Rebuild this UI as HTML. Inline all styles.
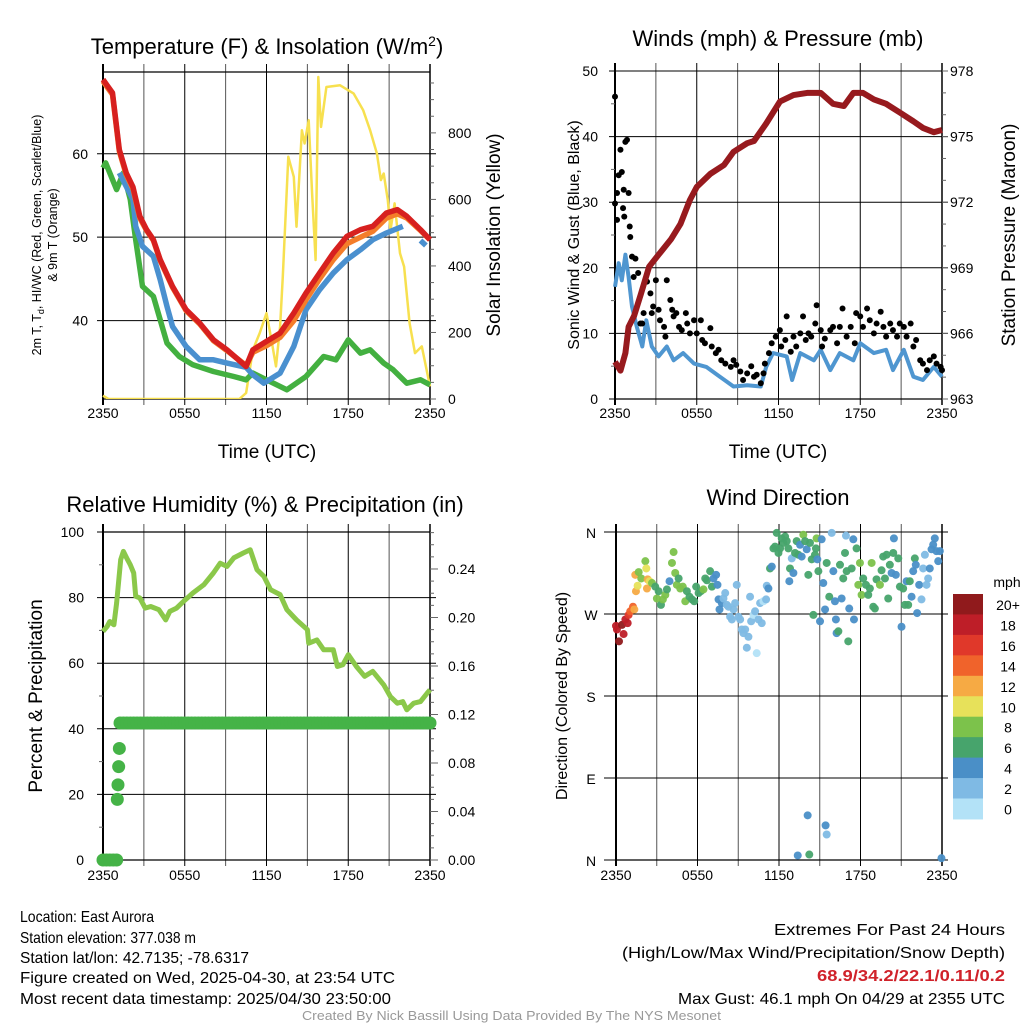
<!DOCTYPE html>
<html><head><meta charset="utf-8"><style>
html,body{margin:0;padding:0;background:#fff;}
svg{display:block;font-family:"Liberation Sans",sans-serif;}
</style></head><body>
<svg id="fig" width="1024" height="1024" viewBox="0 0 1024 1024" xmlns="http://www.w3.org/2000/svg">
<rect width="1024" height="1024" fill="#fff"/>
<g id="layer"></g>
<g font-size="16" fill="#000">
<text x="20" y="922" textLength="134" lengthAdjust="spacingAndGlyphs">Location: East Aurora</text>
<text x="20" y="943" textLength="176" lengthAdjust="spacingAndGlyphs">Station elevation: 377.038 m</text>
<text x="20" y="963" textLength="229" lengthAdjust="spacingAndGlyphs">Station lat/lon: 42.7135; -78.6317</text>
<text x="20" y="983" textLength="375" lengthAdjust="spacingAndGlyphs">Figure created on Wed, 2025-04-30, at 23:54 UTC</text>
<text x="20" y="1004" textLength="371" lengthAdjust="spacingAndGlyphs">Most recent data timestamp: 2025/04/30 23:50:00</text>
<text x="774" y="935" textLength="231" lengthAdjust="spacingAndGlyphs">Extremes For Past 24 Hours</text>
<text x="622" y="958" textLength="383" lengthAdjust="spacingAndGlyphs">(High/Low/Max Wind/Precipitation/Snow Depth)</text>
<text x="817" y="981" textLength="188" lengthAdjust="spacingAndGlyphs" fill="#d0222a" font-weight="bold">68.9/34.2/22.1/0.11/0.2</text>
<text x="678" y="1004" textLength="327" lengthAdjust="spacingAndGlyphs">Max Gust: 46.1 mph On 04/29 at 2355 UTC</text>
<text x="302" y="1020" font-size="13" fill="#999" textLength="419" lengthAdjust="spacingAndGlyphs">Created By Nick Bassill Using Data Provided By The NYS Mesonet</text>
</g>
</svg>
<script>
// ---------- DATA ----------
const tickLabels = ["2350","0550","1150","1750","2350"];
// Temperature panel (hours since 2350 UTC)
const tempHours = [0,0.3,0.7,1.2,1.7,2.2,2.7,3.2,3.7,4.2,5.1,6.1,7.1,8.1,9.1,10.5,11,12,13,14,14.9,15.9,16.9,17.9,18.9,19.8,20.8,21.6,22.3,23.3,24];
const tempRed = [68.9,68.2,67.3,60.5,57.7,56,52.5,50.9,49.7,47.3,44.1,41.3,39.7,37.7,36.5,34.5,36.5,37.5,38.5,40.9,43.3,45.7,48.1,50.1,50.9,51.3,52.9,53.3,52.5,50.9,49.7];
const tempOrange = [68.7,68.0,67.1,60.3,57.5,55.8,52.3,50.8,49.6,47.2,44.0,41.2,39.6,37.6,36.4,34.6,36.2,37.0,38.0,40.0,42.5,45.0,47.3,49.2,50.0,50.7,52.3,52.8,52.3,50.8,49.7];
const blueHours = [1.2,2.2,2.4,2.9,3.7,4.2,4.7,5.1,6.1,7.1,8.1,9.1,10.5,11.0,11.8,13,14,14.9,15.9,16.9,17.9,18.9,19.8,20.8,22];
const tempBlue = [57.7,54.5,51.3,48.9,47.7,44.9,41.7,39.3,36.9,35.3,35.3,34.9,34.4,33.5,32.5,33.7,36.9,41.3,43.7,45.7,47.3,48.5,49.7,50.5,51.3];
const blueTailHours = [23.3,23.5,23.7];
const blueTail = [49.6,49.3,49.0];
const greenHours = [0,0.2,1,1.5,2,2.4,2.9,3.7,4.2,4.7,5.6,6.6,8.1,9.6,10.5,11,12,13.5,14.9,16.2,17.1,18,18.9,19.6,20.6,21.3,22.3,23.3,24];
const tempGreen = [58.3,58.9,55.7,57.7,54.5,49.7,44.1,42.9,40.1,37.3,35.7,34.7,33.9,33.3,32.9,33.7,32.9,31.7,33.3,35.7,35.3,37.7,36.1,36.5,34.9,34.1,32.5,32.9,32.3];
const solarHours = [0,0.4,10,10.5,11,11.5,12,12.4,12.7,13,13.2,13.6,14,14.2,14.6,14.8,15.1,15.35,15.6,15.8,16,16.4,17.4,18.4,19.1,19.6,20.1,20.4,20.6,20.9,21.1,21.4,21.8,22.1,22.5,22.9,23.4,24];
const solarWatts = [10,0,0,18,148,198,258,168,98,218,368,728,668,518,808,768,838,618,418,968,818,938,943,918,868,808,738,658,678,598,508,588,438,398,228,138,158,38];
// Winds panel
const windHours = [0,0.27,0.5,0.76,1.0,1.25,1.6,2.0,2.3,2.7,3.2,3.8,4.3,5.0,5.8,6.7,7.7,8.7,9.7,10.7,11.1,11.6,12.6,13.0,13.6,14.6,15.1,15.8,16.5,17.5,18.0,19.0,19.9,20.4,21.2,21.9,22.6,23.4,24];
const windSpeed = [17.1,20.7,18.1,22,18.6,14.1,11.0,8.0,12.0,8.0,6.5,8.0,5.9,7.0,5.4,4.9,3.4,1.9,2.1,1.9,4.9,7.0,6.5,2.9,7.0,5.9,7.5,4.4,7.0,5.9,8.5,7.0,7.5,4.4,7.5,3.4,2.9,4.9,3.4];
const gustHours = [0,0,0.15,0.15,0.27,0.4,0.5,0.64,0.76,0.88,1.0,0.59,0.68,1.08,1.12,1.25,1.5,1.37,1.7,1.86,2.0,2.1,2.35,2.6,2.7,3.0,2.8,3.2,3.3,3.6,3.8,3.7,4.06,4.2,4.3,4.5,4.7,4.9,5.2,5.3,5.5,5.8,6.0,6.3,6.4,6.6,7.0,7.1,7.4,7.6,7.8,8.1,8.5,8.7,8.9,9.2,9.4,9.7,10.0,10.2,10.4,10.7,10.9,11.0,11.3,11.5,11.8,12.1,12.2,12.5,12.6,12.9,13.1,13.3,13.6,13.8,14.0,14.2,14.4,14.7,14.8,15.1,15.2,15.4,15.8,16.0,16.3,16.5,16.7,17.0,17.3,17.6,17.7,18.0,18.2,18.5,18.7,19.0,19.2,19.5,19.7,19.9,20.2,20.4,20.7,20.9,21.2,21.4,21.7,21.9,22.1,22.4,22.6,22.9,23.1,23.4,23.6,23.9,24];
const gustSpeed = [46.1,29.8,31.4,27.3,34.1,38,34.6,31.9,39.2,39.5,31.4,29.1,27.8,26.3,24.7,21.7,21.4,18.6,19.2,11.5,11.5,13.1,17.9,16.1,13.1,18.1,14.1,13.6,12.0,11.0,18.1,9.5,15.1,13.6,12.6,13.1,11.0,10.5,13.1,11.5,10.0,12.0,10.0,12.0,9.0,8.5,10.8,8.0,7.0,7.5,5.9,5.4,4.9,5.9,5.2,4.2,2.9,3.9,5.0,3.4,3.7,2.4,3.9,5.4,7.0,8.5,9.5,10.5,8.0,9.0,12.6,7.2,9.5,8.0,10.0,12.6,9.0,10.0,9.5,11.5,14.3,10.5,8.0,9.2,10.5,11.0,8.5,11.0,13.8,9.5,11.0,8.5,13.1,12.6,11.0,13.8,12.0,10.0,11.5,13.3,11.0,9.5,11.5,10.5,9.5,11.5,11.0,9.5,11.5,8.0,9.0,5.9,5.4,4.4,5.9,6.5,5.4,4.9,4.4];
const pressHours = [0,0.4,0.76,1.0,1.4,1.9,2.5,3.2,4.1,4.8,5.5,6.0,7.0,8.0,8.7,9.7,10.2,11.1,12.1,13.1,14.1,15.1,16.0,16.8,17.5,18.2,19.0,19.9,20.9,21.9,22.6,23.4,24];
const pressMb = [964.7,964.3,965.1,966.3,966.8,967.8,969.05,969.6,970.3,971.0,972.1,972.7,973.3,973.7,974.3,974.7,974.8,975.6,976.6,976.9,977.0,977.0,976.5,976.4,977.0,977.0,976.7,976.5,976.1,975.7,975.4,975.2,975.3];
// RH / precip panel
const rhHours = [0,0.3,0.5,0.8,1.0,1.3,1.5,1.8,2.0,2.25,2.4,2.7,3.1,3.5,4.1,4.6,4.9,5.4,5.9,6.6,7.4,8.1,8.6,9.1,9.6,10.3,10.8,11.3,11.8,12.3,13,13.5,14.2,15,15.1,15.7,16.2,16.9,17.2,17.6,18,18.6,19.2,19.8,20.6,21.1,21.6,22.0,22.3,22.8,23.3,23.8,24];
const rhPct = [69.7,71.2,72.7,71.7,78.3,91.6,94.1,91.6,90,87.5,80.4,79.9,76.8,77.3,76.3,73.2,75.8,76.8,78.8,81.4,83.9,87.5,90.5,89.5,92.1,93.6,94.6,88.5,86.5,82.4,80.9,76.3,73.2,70.2,66.1,67.1,64.1,64.1,59.0,59.5,62.6,59,56,57.5,53.4,49.8,47.8,48.3,45.8,47.8,48.3,50.9,51.9];
const precipHours = [0,0.25,0.5,0.75,1.0,1.05,1.1,1.15,1.2,1.25,1.5,1.75,2,2.25,2.5,2.75,3,3.25,3.5,3.75,4,4.25,4.5,4.75,5,5.25,5.5,5.75,6,6.25,6.5,6.75,7,7.25,7.5,7.75,8,8.25,8.5,8.75,9,9.25,9.5,9.75,10,10.25,10.5,10.75,11,11.25,11.5,11.75,12,12.25,12.5,12.75,13,13.25,13.5,13.75,14,14.25,14.5,14.75,15,15.25,15.5,15.75,16,16.25,16.5,16.75,17,17.25,17.5,17.75,18,18.25,18.5,18.75,19,19.25,19.5,19.75,20,20.25,20.5,20.75,21,21.25,21.5,21.75,22,22.25,22.5,22.75,23,23.25,23.5,23.75,24];
const precipIn = [0,0,0,0,0,0.05,0.062,0.077,0.092,0.113,0.113,0.113,0.113,0.113,0.113,0.113,0.113,0.113,0.113,0.113,0.113,0.113,0.113,0.113,0.113,0.113,0.113,0.113,0.113,0.113,0.113,0.113,0.113,0.113,0.113,0.113,0.113,0.113,0.113,0.113,0.113,0.113,0.113,0.113,0.113,0.113,0.113,0.113,0.113,0.113,0.113,0.113,0.113,0.113,0.113,0.113,0.113,0.113,0.113,0.113,0.113,0.113,0.113,0.113,0.113,0.113,0.113,0.113,0.113,0.113,0.113,0.113,0.113,0.113,0.113,0.113,0.113,0.113,0.113,0.113,0.113,0.113,0.113,0.113,0.113,0.113,0.113,0.113,0.113,0.113,0.113,0.113,0.113,0.113,0.113,0.113,0.113,0.113,0.113,0.113,0.113];
// Wind direction panel
const dirHours = [0,0.07,0.22,0.44,0.56,0.69,0.86,0.93,1.05,1.25,1.35,1.47,1.59,1.42,1.67,1.86,2.16,2.23,2.33,2.28,2.47,2.65,2.89,3.01,3.14,3.31,3.45,3.63,3.75,3.94,4.12,4.24,4.36,4.48,4.61,4.73,4.92,5.1,5.22,5.41,5.59,5.76,5.9,6.08,6.25,6.44,6.57,6.69,6.93,7.06,7.18,7.37,7.47,7.55,7.62,7.79,7.91,8.04,8.16,8.28,8.4,8.53,8.65,8.77,8.89,9.02,9.14,9.26,9.38,9.51,9.63,9.75,9.87,9.95,10.12,10.24,10.36,10.49,10.61,10.73,10.85,11.05,11.1,11.22,11.34,11.47,11.59,11.71,11.83,11.96,12.08,12.2,12.32,12.45,12.57,12.69,12.76,12.81,12.94,13.06,13.18,13.3,13.43,13.55,13.67,13.79,13.92,14.04,14.16,14.28,14.41,14.53,14.65,14.72,14.77,14.82,14.9,15.02,15.14,15.26,15.39,15.51,15.7,15.88,16.0,16.12,16.19,16.24,16.37,16.49,16.61,16.73,16.86,16.93,16.98,17.1,17.17,17.35,17.47,17.52,17.71,17.84,17.96,18.08,18.2,18.4,18.57,18.69,18.82,18.94,19.06,19.18,19.43,19.55,19.67,19.8,19.92,20.04,20.16,20.29,20.41,20.46,20.6,20.78,20.9,21.02,21.14,21.27,21.39,21.51,21.63,21.76,21.88,22.0,22.07,22.17,22.32,22.49,22.61,22.74,22.86,22.98,23.1,23.23,23.35,23.47,23.59,23.72,23.84,13.38,14.11,14.23,15.43,15.51,23.96];
const dirDeg = [257,253,240,258,248,264,260,269,273,278,275,295,301,313,316,309,328,320,308,298,306,304,300,287,295,280,286,291,297,306,326,338,315,302,309,298,300,284,295,289,286,284,300,293,295,297,309,307,317,300,309,313,302,286,275,282,287,293,280,278,267,264,275,282,302,267,264,253,249,253,233,245,289,262,269,273,227,264,282,260,284,286,301,298,320,322,342,344,359,337,342,353,348,355,350,342,306,320,331,315,337,350,335,346,333,357,350,341,313,348,330,269,335,342,353,330,317,262,352,304,275,326,289,359,317,284,264,249,251,324,287,309,337,356,317,240,276,320,352,264,342,302,326,291,309,302,291,298,326,278,276,308,302,318,333,309,335,287,324,315,337,353,313,331,300,256,298,280,306,280,306,289,317,331,324,271,302,286,320,335,302,309,320,341,346,353,339,328,339,5,49,6,38,28,2];
const dirSpeed = [19,19,21,20,19,19,18,17,15,14,12,13,11,13,9,9,9,11,12,13,11,9,7,8,7,7,8,8,7,5,9,9,8,9,7,8,8,9,7,7,7,7,7,7,7,8,6,6,7,6,5,5,5,4,5,4,3,3,3,3,3,3,3,3,3,3,3,3,3,2,3,3,3,2,1,2,1,3,2,2,1,3,3,4,6,4,7,6,6,6,7,6,6,6,7,6,4,6,3,4,7,7,7,4,4,8,6,4,6,6,6,7,6,7,8,4,6,4,4,4,4,6,6,2,4,4,4,4,6,6,4,6,6,2,6,6,4,6,4,4,6,8,8,8,7,7,6,7,8,6,6,6,8,6,7,6,7,6,7,4,6,4,4,6,7,4,6,6,4,7,7,4,4,6,4,4,4,3,3,3,3,3,4,4,4,4,4,4,4,4,4,6,4,3,4];
const speedBins = ["0","2","4","6","8","10","12","14","16","18","20+"];
const speedColors = ["#b3e2f7","#7fbae4","#4a8fc7","#47a46c","#7cc24b","#e7e15a","#f6aa44","#f0632b","#e0382a","#be1e28","#901a1c"];

// ---------- HELPERS ----------
const NS="http://www.w3.org/2000/svg";
const layer=document.getElementById('layer');
function mk(tag,attrs,parent){const e=document.createElementNS(NS,tag);for(const k in attrs)e.setAttribute(k,attrs[k]);(parent||layer).appendChild(e);return e;}
function txt(s,attrs,parent){const e=mk('text',attrs,parent);e.textContent=s;return e;}
function lin(d0,d1,r0,r1){return v=>r0+(v-d0)/(d1-d0)*(r1-r0);}
function pathFrom(xs,ys,sx,sy){let d='';for(let i=0;i<xs.length;i++){d+=(i?'L':'M')+sx(xs[i]).toFixed(1)+','+sy(ys[i]).toFixed(1);}return d;}

function frame(g,L,R,T,B,opts){
  const sx=lin(0,24,L,R);
  for(let h=3;h<24;h+=3){const gl=mk('line',{x1:sx(h),x2:sx(h),y1:T-(opts.topTicks?8:0),y2:B+6,stroke:(h%6===0?'#000':'#555'),'stroke-width':1},g);
    }
  [0,24].forEach(h=>{mk('line',{x1:sx(h),x2:sx(h),y1:T-(opts.topTicks?8:0),y2:B+6,stroke:'#000','stroke-width':h===0?2:1.5},g);});
  if(opts.topBorder) mk('line',{x1:L,x2:R,y1:T,y2:T,stroke:'#000','stroke-width':1.2},g);
  mk('line',{x1:L,x2:R,y1:B,y2:B,stroke:'#000','stroke-width':1.2},g);
  for(let i=0;i<tickLabels.length;i++){const t=txt(tickLabels[i],{x:sx(i*6),y:B+(opts.lblOff||22),'font-size':14,'text-anchor':'middle'},g);
    }
  return sx;
}
function hgrid(g,L,R,ys,leftTick){ys.forEach(y=>{mk('line',{x1:L-leftTick,x2:R+6,y1:y,y2:y,stroke:'#000','stroke-width':1},g);});}

// ---------- PANEL 1: Temperature ----------
(function(){
  const g=mk('g',{});
  const L=103,R=430,T=72,B=399;
  const sy=lin(30.6,69.8,B,T), sw=lin(0,983,B,T);
  const sx=frame(g,L,R,T,B,{topTicks:true,topBorder:true,lblOff:19});
  hgrid(g,L,R,[40,50,60].map(sy),6);
  [40,50,60].forEach(v=>{const t=txt(String(v),{x:88,y:sy(v)+5,'font-size':14,'text-anchor':'end'},g);});
  for(let w=0;w<=950;w+=50){mk('line',{x1:R,x2:R+(w%200===0?6:4),y1:sw(w),y2:sw(w),stroke:'#666','stroke-width':1},g);}
  [0,200,400,600,800].forEach(v=>{const t=txt(String(v),{x:448,y:sw(v)+5,'font-size':14},g);});
  const cp=mk('clipPath',{id:'c1'},g);mk('rect',{x:L-3,y:T,width:R-L+6,height:B-T},cp);
  const pg=mk('g',{'clip-path':'url(#c1)'},g);
  let p;
  p=mk('path',{d:pathFrom(solarHours,solarWatts,sx,sw),fill:'none',stroke:'#f7e04f','stroke-width':2.5,'stroke-linejoin':'round'},pg);
  p=mk('path',{d:pathFrom(greenHours,tempGreen,sx,sy),fill:'none',stroke:'#43b040','stroke-width':5.5,'stroke-linejoin':'round'},pg);
  p=mk('path',{d:pathFrom(blueHours,tempBlue,sx,sy),fill:'none',stroke:'#4a90cf','stroke-width':5.5,'stroke-linejoin':'round'},pg);
  p=mk('path',{d:pathFrom(blueTailHours,blueTail,sx,sy),fill:'none',stroke:'#4a90cf','stroke-width':5.5},pg);
  p=mk('path',{d:pathFrom(tempHours,tempOrange,sx,sy),fill:'none',stroke:'#f47d2a','stroke-width':5.5,'stroke-linejoin':'round'},pg);
  p=mk('path',{d:pathFrom(tempHours,tempRed,sx,sy),fill:'none',stroke:'#d7201f','stroke-width':5.5,'stroke-linejoin':'round'},pg);
  let t=txt('',{x:267,y:54,'font-size':22,'text-anchor':'middle'},g);
  t.innerHTML='Temperature (F) &amp; Insolation (W/m<tspan dy="-8" font-size="14">2</tspan><tspan dy="8">)</tspan>';
  t=txt('',{transform:'translate(41,235) rotate(-90)','font-size':12.5,'text-anchor':'middle'},g);
  t.innerHTML='2m T, T<tspan dy="3" font-size="9">d</tspan><tspan dy="-3">, HI/WC (Red, Green, Scarlet/Blue)</tspan>';
  t=txt('& 9m T (Orange)',{transform:'translate(57,235) rotate(-90)','font-size':12.5,'text-anchor':'middle'},g);
  t=txt('Solar Insolation (Yellow)',{transform:'translate(500,235) rotate(-90)','font-size':19,'text-anchor':'middle'},g);
  t=txt('Time (UTC)',{x:267,y:458,'font-size':19,'text-anchor':'middle'},g);
})();

// ---------- PANEL 2: Winds ----------
(function(){
  const g=mk('g',{});
  const L=615,R=942,T=71,B=399;
  const sy=lin(0,50,B,T), sp=lin(963,978,B,T);
  const sx=frame(g,L,R,T,B,{topTicks:true,topBorder:false,lblOff:19});
  hgrid(g,L,R,[0,10,20,30,40,50].map(sy),6);
  [0,10,20,30,40,50].forEach(v=>{const t=txt(String(v),{x:598,y:sy(v)+5,'font-size':14,'text-anchor':'end'},g);});
  for(let v=5;v<50;v+=10){mk('line',{x1:L-4,x2:L,y1:sy(v),y2:sy(v),stroke:'#666'},g);}
  for(let m=963;m<=978;m+=1){mk('line',{x1:R,x2:R+(m%3===0?6:4),y1:sp(m),y2:sp(m),stroke:'#666'},g);}
  [963,966,969,972,975,978].forEach(v=>{const t=txt(String(v),{x:950,y:sp(v)+5,'font-size':14},g);});
  let p=mk('path',{d:pathFrom(windHours,windSpeed,sx,sy),fill:'none',stroke:'#4f96d0','stroke-width':4,'stroke-linejoin':'round'},g);
  for(let i=0;i<gustHours.length;i++){const c=mk('circle',{cx:sx(gustHours[i]),cy:sy(gustSpeed[i]),r:3,fill:'#000'},g);
    }
  p=mk('path',{d:pathFrom(pressHours,pressMb,sx,sp),fill:'none',stroke:'#971a1e','stroke-width':6,'stroke-linejoin':'round'},g);
  let t=txt('Winds (mph) & Pressure (mb)',{x:778,y:46,'font-size':22,'text-anchor':'middle'},g);
  t=txt('Sonic Wind & Gust (Blue, Black)',{transform:'translate(579,235) rotate(-90)','font-size':16,'text-anchor':'middle'},g);
  t=txt('Station Pressure (Maroon)',{transform:'translate(1015,235) rotate(-90)','font-size':19,'text-anchor':'middle'},g);
  t=txt('Time (UTC)',{x:778,y:458,'font-size':19,'text-anchor':'middle'},g);
})();

// ---------- PANEL 3: RH & Precip ----------
(function(){
  const g=mk('g',{});
  const L=103,R=430,T=532,B=860;
  const sy=lin(0,100,B,T), sq=lin(0,0.2705,B,T);
  const sx=frame(g,L,R,T,B,{topTicks:true,topBorder:true,lblOff:20});
  hgrid(g,L,R,[20,40,60,80].map(sy),6);
  mk('line',{x1:L-6,x2:L,y1:B,y2:B,stroke:'#000'},g);mk('line',{x1:L-6,x2:L,y1:T,y2:T,stroke:'#000'},g);
  for(let v=10;v<100;v+=20){mk('line',{x1:L-4,x2:L,y1:sy(v),y2:sy(v),stroke:'#666'},g);}
  [0,20,40,60,80,100].forEach(v=>{const t=txt(String(v),{x:84,y:sy(v)+5,'font-size':14,'text-anchor':'end'},g);});
  for(let k=0;k<=27;k++){mk('line',{x1:R,x2:R+(k%4===0?8:4),y1:sq(k/100),y2:sq(k/100),stroke:'#666'},g);}
  ["0.00","0.04","0.08","0.12","0.16","0.20","0.24"].forEach((s,i)=>{const t=txt(s,{x:448,y:sq(i*0.04)+5,'font-size':14},g);});
  let p=mk('path',{d:pathFrom(rhHours,rhPct,sx,sy),fill:'none',stroke:'#8bc84a','stroke-width':5,'stroke-linejoin':'round'},g);
  for(let i=0;i<precipHours.length;i++){const c=mk('circle',{cx:sx(precipHours[i]),cy:sq(precipIn[i]),r:6.5,fill:'#45b347'},g);
    }
  let t=txt('Relative Humidity (%) & Precipitation (in)',{x:265,y:512,'font-size':22,'text-anchor':'middle'},g);
  t=txt('Percent & Precipitation',{transform:'translate(42,696) rotate(-90)','font-size':19,'text-anchor':'middle'},g);
})();

// ---------- PANEL 4: Wind Direction ----------
(function(){
  const g=mk('g',{});
  const L=616,R=942,T=532,B=860;
  const sy=lin(0,360,B,T);
  const sx=frame(g,L,R,T,B,{topTicks:true,topBorder:false,lblOff:20});
  hgrid(g,L,R,[0,90,180,270,360].map(sy),12);
  ["N","E","S","W","N"].forEach((s,i)=>{const t=txt(s,{x:591,y:sy(i*90)+6,'font-size':14,'text-anchor':'middle'},g);});
  for(let i=0;i<dirHours.length;i++){const bin=Math.min(10,Math.floor(dirSpeed[i]/2));
    const c=mk('circle',{cx:sx(dirHours[i]),cy:sy(dirDeg[i]),r:4,fill:speedColors[bin],'fill-opacity':0.95},g);
    }
  const cb=mk('g',{},g);
  const bh=20.45, top=594;
  for(let i=0;i<speedBins.length;i++){const k=speedBins.length-1-i;
    const r=mk('rect',{x:953,y:top+i*bh,width:30,height:bh+0.5,fill:speedColors[k]},cb);
    const t=txt(speedBins[k],{x:1008,y:top+i*bh+16,'font-size':14,'text-anchor':'middle'},cb);}
  let t=txt('mph',{x:1007,y:587,'font-size':14,'text-anchor':'middle'},g);
  t=txt('Wind Direction',{x:778,y:505,'font-size':22,'text-anchor':'middle'},g);
  t=txt('Direction (Colored By Speed)',{transform:'translate(567,696) rotate(-90)','font-size':16,'text-anchor':'middle'},g);
})();
</script>
</body></html>
